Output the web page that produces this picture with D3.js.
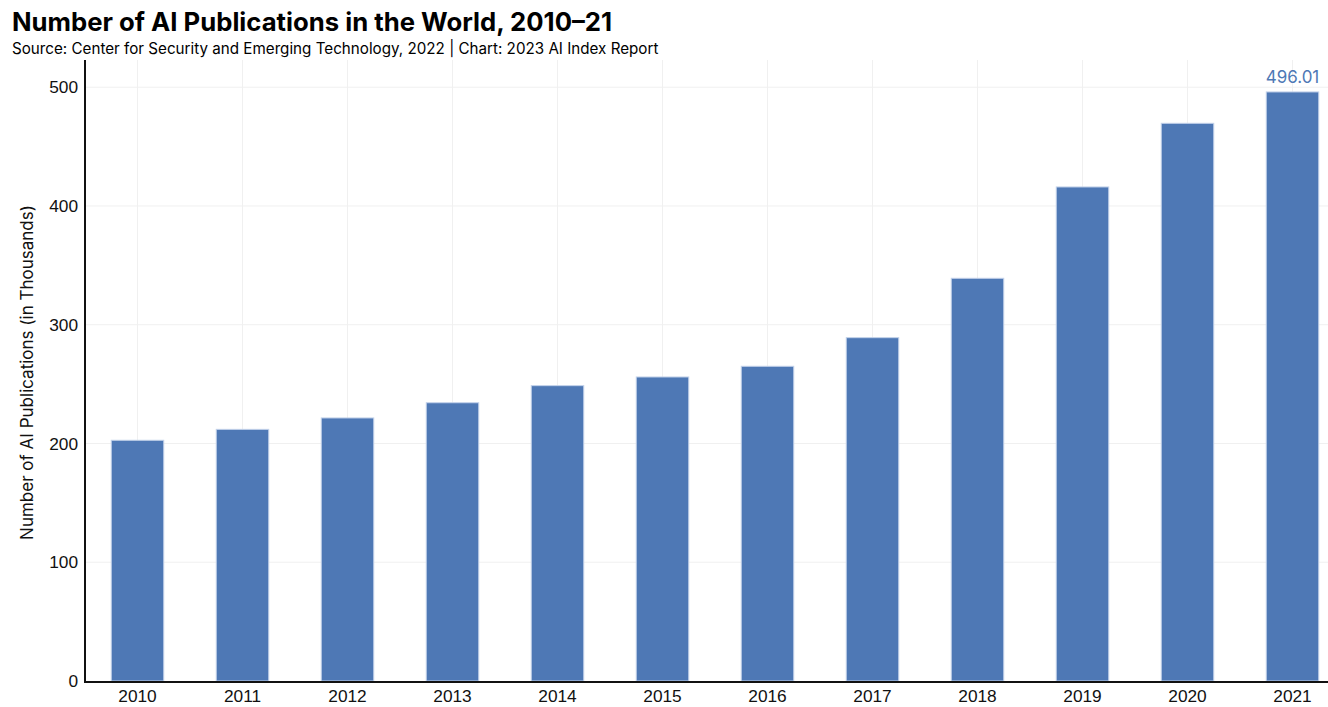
<!DOCTYPE html>
<html>
<head>
<meta charset="utf-8">
<script src="https://cdn.jsdelivr.net/npm/d3@7"></script>
<style>
  body { margin: 0; background: #fff; font-family: Inter, "Noto Sans", sans-serif; }
  .title { font-size: 25.7px; font-weight: 700; fill: #000; }
  .sub { font-size: 15.2px; fill: #000; }
  .tick text { font-size: 17.3px; fill: #111; }
</style>
</head>
<body>
<div id="chart"></div>
<script>
// data, thousands of publications
var years = ["2010", "2011", "2012", "2013", "2014", "2015", "2016", "2017", "2018", "2019", "2020", "2021"];
var pubs = [202.7, 211.9, 221.5, 234.3, 248.7, 256.0, 265.0, 289.1, 339.1, 416.0, 469.6, 496.01];
var yTicks = [0, 100, 200, 300, 400, 500];

var data = years.map(function (y, i) { return { year: y, value: pubs[i] }; });

var width = 1328, height = 707;
var svg = d3.select("#chart").append("svg")
  .attr("width", width)
  .attr("height", height);

// plot area runs a little past the right edge of the picture
var plotLeft = 85, plotRight = 1345, plotTop = 60, plotBottom = 681;

var x = d3.scaleBand()
  .domain(years)
  .range([plotLeft, plotRight])
  .paddingInner(0.5)
  .paddingOuter(0.25);

var y = d3.scaleLinear()
  .domain([0, 500])
  .range([plotBottom, 87.2]);

// grid
svg.append("g")
  .selectAll("line")
  .data(yTicks.slice(1))
  .enter().append("line")
  .attr("x1", plotLeft).attr("x2", width)
  .attr("y1", function (d) { return y(d); })
  .attr("y2", function (d) { return y(d); })
  .attr("stroke", "#f0f0f0");

svg.append("g")
  .selectAll("line")
  .data(years)
  .enter().append("line")
  .attr("x1", function (d) { return x(d) + x.bandwidth() / 2; })
  .attr("x2", function (d) { return x(d) + x.bandwidth() / 2; })
  .attr("y1", plotTop).attr("y2", plotBottom)
  .attr("stroke", "#f0f0f0");

// bars
svg.append("g")
  .selectAll("rect")
  .data(data)
  .enter().append("rect")
  .attr("x", function (d) { return x(d.year); })
  .attr("width", x.bandwidth())
  .attr("y", function (d) { return y(d.value); })
  .attr("height", function (d) { return y(0) - y(d.value); })
  .attr("fill", "#4e78b5")
  .attr("stroke", "#c3d2ea")
  .attr("stroke-width", 1);

// label for last bar
var last = data[data.length - 1];
svg.append("text")
  .attr("x", x(last.year) + x.bandwidth() / 2)
  .attr("y", y(last.value) - 9)
  .attr("text-anchor", "middle")
  .attr("font-size", "17px")
  .attr("fill", "#4e78b5")
  .text(last.value.toFixed(2));

// axes
var yAxis = svg.append("g")
  .attr("transform", "translate(" + plotLeft + ",0)")
  .call(d3.axisLeft(y).tickValues(yTicks).tickSize(0).tickPadding(7));
yAxis.select(".domain").remove();

var xAxis = svg.append("g")
  .attr("transform", "translate(0," + plotBottom + ")")
  .call(d3.axisBottom(x).tickSize(0).tickPadding(9));
xAxis.select(".domain").remove();

svg.append("line")
  .attr("x1", plotLeft).attr("x2", plotLeft)
  .attr("y1", plotTop).attr("y2", plotBottom + 2)
  .attr("stroke", "#111").attr("stroke-width", 2);
svg.append("line")
  .attr("x1", plotLeft - 1).attr("x2", width)
  .attr("y1", plotBottom + 1).attr("y2", plotBottom + 1)
  .attr("stroke", "#111").attr("stroke-width", 2);

svg.append("text")
  .attr("transform", "translate(33," + ((plotTop + plotBottom) / 2 + 2) + ") rotate(-90)")
  .attr("text-anchor", "middle")
  .attr("font-size", "17px")
  .attr("fill", "#111")
  .text("Number of AI Publications (in Thousands)");

// titles
svg.append("text").attr("class", "title")
  .attr("x", 12).attr("y", 31)
  .text("Number of AI Publications in the World, 2010–21");
svg.append("text").attr("class", "sub")
  .attr("x", 12).attr("y", 54)
  .text("Source: Center for Security and Emerging Technology, 2022 | Chart: 2023 AI Index Report");
</script>
</body>
</html>
